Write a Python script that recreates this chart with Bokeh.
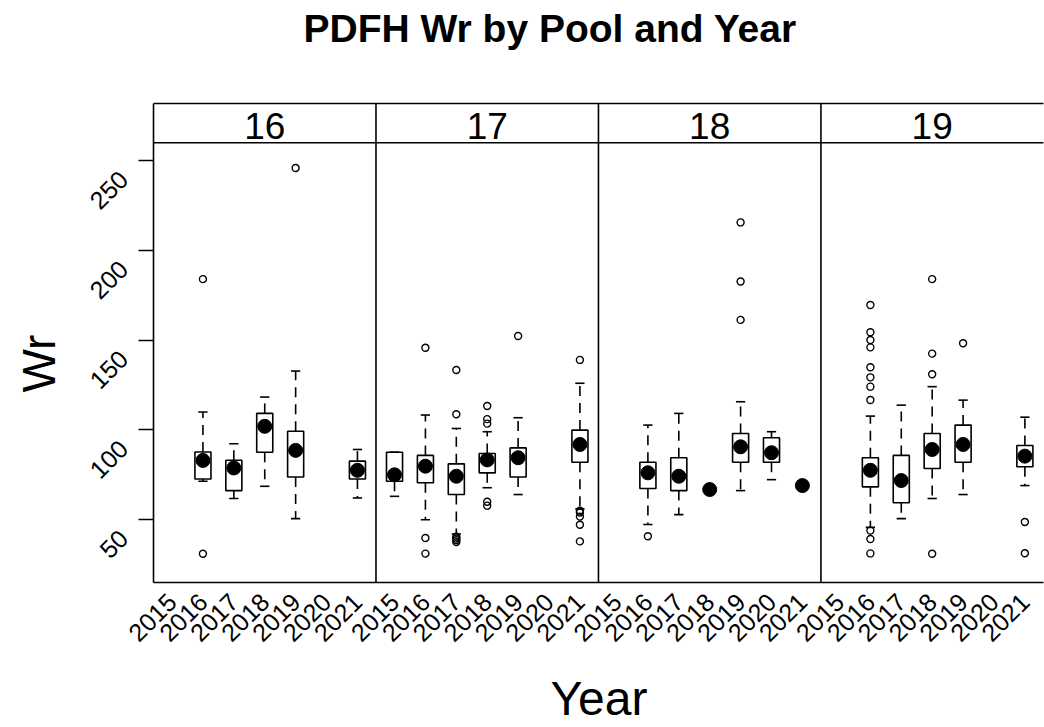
from math import pi
from bokeh.plotting import figure
from bokeh.models import Range1d, FixedTicker, LinearAxis, Title, ColumnDataSource
from bokeh.embed import file_html
from bokeh.resources import INLINE
from bokeh.core.properties import value

# ---------------- data ----------------
pools = ["16", "17", "18", "19"]
years = ["2015", "2016", "2017", "2018", "2019", "2020", "2021"]
y_ticks = [50, 100, 150, 200, 250]

box_pool = ["16", "16", "16", "16", "16",
            "17", "17", "17", "17", "17", "17",
            "18", "18", "18", "18", "18", "18",
            "19", "19", "19", "19", "19"]
box_year = ["2016", "2017", "2018", "2019", "2021",
            "2015", "2016", "2017", "2018", "2019", "2021",
            "2016", "2017", "2018", "2019", "2020", "2021",
            "2016", "2017", "2018", "2019", "2021"]
box_lo = [71.4, 61.8, 68.6, 50.6, 62.1,
          63.0, 50.0, 42.0, 67.8, 64.0, 56.0,
          47.3, 52.8, 66.8, 66.2, 72.3, 69.0,
          45.7, 50.6, 61.8, 64.0, 69.0]
box_q1 = [72.7, 66.2, 87.6, 73.8, 72.7,
          71.4, 70.6, 64.0, 76.1, 73.8, 82.0,
          67.4, 66.2, 66.8, 82.0, 82.0, 69.0,
          68.3, 59.4, 78.5, 82.0, 79.5]
box_med = [83.0, 78.8, 102.0, 88.6, 77.5,
           75.0, 79.8, 74.2, 83.3, 84.5, 91.9,
           76.1, 74.2, 66.8, 90.6, 87.3, 69.0,
           77.5, 71.8, 89.1, 91.9, 85.4]
box_q3 = [87.7, 83.1, 109.2, 99.3, 82.6,
          87.6, 85.8, 81.1, 86.9, 90.0, 99.9,
          82.0, 84.5, 66.8, 98.0, 95.6, 69.0,
          84.5, 85.8, 98.0, 102.7, 91.3]
box_hi = [110.0, 92.3, 118.3, 132.8, 89.1,
          87.6, 108.3, 100.8, 99.0, 106.8, 126.0,
          102.7, 109.2, 66.8, 115.7, 99.0, 69.0,
          107.7, 113.8, 124.1, 116.6, 107.1]

out_pool = ["16", "16", "16",
            "17", "17", "17", "17", "17", "17", "17", "17", "17",
            "17", "17", "17", "17", "17", "17", "17",
            "17", "17", "17", "17", "17",
            "18", "18", "18", "18",
            "19", "19", "19", "19", "19", "19", "19", "19", "19", "19", "19",
            "19", "19", "19", "19", "19", "19", "19"]
out_year = ["2016", "2016", "2019",
            "2016", "2016", "2016", "2017", "2017", "2017", "2017", "2017", "2017",
            "2018", "2018", "2018", "2018", "2018", "2019", "2021",
            "2021", "2021", "2021", "2021", "2021",
            "2016", "2019", "2019", "2019",
            "2016", "2016", "2016", "2016", "2016", "2016", "2016", "2016", "2016", "2016", "2016",
            "2018", "2018", "2018", "2018", "2019", "2021", "2021"]
out_val = [184.0, 31.0, 245.9,
           145.8, 39.8, 31.1, 133.4, 108.7, 40.5, 39.5, 38.5, 37.5,
           113.3, 106.0, 103.5, 60.0, 57.8, 152.3, 139.0,
           55.0, 51.7, 47.2, 37.9, 54.0,
           40.8, 215.6, 182.7, 161.3,
           169.6, 154.4, 150.1, 146.0, 134.9, 129.3, 124.1, 116.7, 43.9, 39.2, 31.2,
           184.0, 142.5, 131.0, 31.0, 148.3, 48.7, 31.3]

# ---------------- layout helpers ----------------
W, H = 1044, 727
CAT = 10          # x units per year slot
PANEL = 72        # x units per pool panel (7 slots + 0.6 padding each side)
X0 = 4.0          # left edge of first panel (x units)
Y0 = 15.0         # bottom of panels (y units)
PX_X = 3.09       # pixels per x unit
PX_Y = 1.795      # pixels per y unit
FRAME_LEFT, FRAME_BOTTOM, FRAME_TOP, FRAME_RIGHT = 153, 582, 100, 1044
STRIP_TOP_PX = 103
STRIP_LABEL_PX = 125
PANEL_TOP = 260.0
LABEL_SHIFT = 8.0  # y-tick labels sit a little below their ticks, as in the reference


def dx(px):
    return X0 + (px - FRAME_LEFT) / PX_X


def dy(py):
    return Y0 + (FRAME_BOTTOM - py) / PX_Y


def xpos(pool, year):
    return pools.index(pool) * PANEL + CAT * (years.index(year) + 1)


Y_STRIP = dy(STRIP_TOP_PX)
X_END = X0 + PANEL * len(pools)

p = figure(width=W, height=H, output_backend="svg", toolbar_location=None,
           x_range=Range1d(X0, dx(FRAME_RIGHT)), y_range=Range1d(Y0, dy(FRAME_TOP)),
           min_border_left=FRAME_LEFT, min_border_right=0,
           min_border_top=FRAME_TOP, min_border_bottom=H - FRAME_BOTTOM,
           outline_line_color=None, background_fill_color="white",
           border_fill_color="white")
p.grid.visible = False
xa = p.below[0]
ya = p.left[0]

# x axis (bottom border + year labels)
xticks = [k * PANEL + CAT * (j + 1) for k in range(len(pools)) for j in range(len(years))]
xa.ticker = FixedTicker(ticks=xticks)
xa.major_label_overrides = {t: years[i % len(years)] for i, t in enumerate(xticks)}
xa.major_tick_out = 0
xa.major_tick_in = 0
xa.minor_tick_out = 0
xa.minor_tick_in = 0
xa.axis_line_color = "black"
xa.axis_line_width = 1.6
xa.bounds = (X0, X_END)
xa.major_label_orientation = pi / 4
xa.major_label_standoff = 15
xa.major_label_text_font = "Liberation Sans"
xa.major_label_text_font_size = "25px"
xa.major_label_text_color = "black"
xa.axis_label = "Year"
xa.axis_label_text_font = "Liberation Sans"
xa.axis_label_text_font_style = "normal"
xa.axis_label_text_font_size = "48px"
xa.axis_label_text_line_height = 1.0
xa.axis_label_text_color = "black"
xa.axis_label_standoff = 19

# y axis (left border + ticks); tick marks are the (minor) ticks at the real values
lab_pos = [v - LABEL_SHIFT for v in y_ticks]
ya.ticker = FixedTicker(ticks=lab_pos, minor_ticks=y_ticks)
ya.major_label_overrides = {lp: str(v) for lp, v in zip(lab_pos, y_ticks)}
ya.major_tick_out = 0
ya.major_tick_in = 0
ya.minor_tick_out = 15
ya.minor_tick_in = 0
ya.minor_tick_line_width = 1.6
ya.minor_tick_line_color = "black"
ya.axis_line_color = "black"
ya.axis_line_width = 1.6
ya.bounds = (Y0, Y_STRIP)
ya.major_label_orientation = pi / 4
ya.major_label_standoff = 15
ya.major_label_text_font = "Liberation Sans"
ya.major_label_text_font_size = "25px"
ya.major_label_text_color = "black"

# y label as an outer title on the left side (lets it sit lower, as in the reference)
p.add_layout(Title(text="Wr", align="left", vertical_align="top", offset=190, standoff=24,
                   text_font="Liberation Sans", text_font_style="normal",
                   text_font_size="46px", text_color="black"), "left")

# invisible spacer above the frame so that the title sits near the top edge
sp_tick = xticks[0]
spacer = LinearAxis(ticker=FixedTicker(ticks=[sp_tick]), axis_line_color=None,
                    major_tick_out=49, major_tick_in=0, minor_tick_out=0, minor_tick_in=0,
                    major_tick_line_color=None, major_label_standoff=0,
                    major_label_overrides={sp_tick: ""}, major_label_text_font_size="1px")
p.add_layout(spacer, "above")

# title
p.title.text = "PDFH Wr by Pool and Year"
p.title.align = "left"
p.title.vertical_align = "top"
p.title.offset = 150
p.title.standoff = 0
p.title.text_font = "Liberation Sans"
p.title.text_font_style = "bold"
p.title.text_font_size = "39px"
p.title.text_color = "black"

# panel separators, strip bottom and strip top lines
seps = [X0 + PANEL * k for k in range(1, len(pools))]
p.segment(x0=seps, y0=[Y0] * len(seps), x1=seps, y1=[Y_STRIP] * len(seps),
          line_color="black", line_width=1.6)
p.segment(x0=[X0, X0], y0=[PANEL_TOP, Y_STRIP], x1=[X_END, X_END], y1=[PANEL_TOP, Y_STRIP],
          line_color="black", line_width=1.6)

# strip labels
p.text(x=[X0 + PANEL * k + PANEL / 2 for k in range(len(pools))],
       y=[dy(STRIP_LABEL_PX)] * len(pools), text=pools, text_align="center",
       text_baseline="middle", text_font=value("Liberation Sans"),
       text_font_size="37px", text_color="black")

# boxes
bx = [xpos(pp, yy) for pp, yy in zip(box_pool, box_year)]
src = ColumnDataSource(dict(x=bx, lo=box_lo, q1=box_q1, med=box_med, q3=box_q3, hi=box_hi,
                            cl=[v - 1.5 for v in bx], cr=[v + 1.5 for v in bx]))
dash = "10 7"
p.segment(x0="x", y0="q3", x1="x", y1="hi", source=src, line_color="black",
          line_width=1.6, line_dash=dash)
p.segment(x0="x", y0="q1", x1="x", y1="lo", source=src, line_color="black",
          line_width=1.6, line_dash=dash)
p.segment(x0="cl", y0="hi", x1="cr", y1="hi", source=src, line_color="black", line_width=1.6)
p.segment(x0="cl", y0="lo", x1="cr", y1="lo", source=src, line_color="black", line_width=1.6)

keep = [i for i in range(len(bx)) if box_q3[i] > box_q1[i]]
bsrc = ColumnDataSource(dict(x=[bx[i] for i in keep], q1=[box_q1[i] for i in keep],
                             q3=[box_q3[i] for i in keep]))
p.vbar(x="x", width=5.2, bottom="q1", top="q3", source=bsrc, fill_color="white",
       line_color="black", line_width=1.6)
p.scatter(x="x", y="med", source=src, marker="circle", size=14,
          fill_color="black", line_color="black")

# outliers
ox = [xpos(pp, yy) for pp, yy in zip(out_pool, out_year)]
p.scatter(x=ox, y=out_val, marker="circle", size=7, fill_color=None,
          line_color="black", line_width=1.4)

open("out.html", "w").write(file_html(p, INLINE))
